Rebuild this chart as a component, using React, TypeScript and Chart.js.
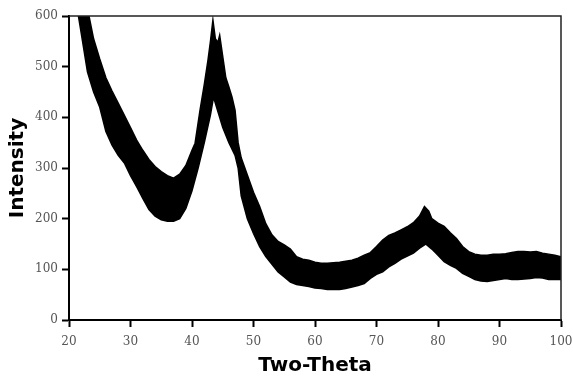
import React, { useEffect, useRef } from "react";
import { Chart, registerables } from "chart.js";

Chart.register(...registerables);

const upperTheta = [21, 22, 23, 24, 25, 26, 27, 28, 29, 30, 31, 32, 33, 34, 35, 36, 37, 38, 39, 40, 40.5, 41.3, 42, 42.6, 43, 43.4, 43.8, 44.2, 44.5, 45, 45.5, 46, 46.5, 47, 47.5, 48, 49, 50, 51, 52, 53, 54, 55, 56, 57, 58, 59, 60, 61, 62, 63, 64, 65, 66, 67, 68, 69, 70, 71, 72, 73, 74, 75, 76, 77, 77.8, 78.5, 79, 80, 81, 82, 83, 84, 85, 86, 87, 88, 89, 90, 91, 92, 93, 94, 95, 96, 97, 98, 99, 100];
const upperIntensity = [720, 660, 615, 555, 515, 478, 452, 428, 404, 380, 355, 335, 317, 303, 293, 285, 280, 288, 305, 335, 349, 414, 465, 513, 550, 592, 555, 548, 562, 520, 478, 460, 440, 414, 350, 320, 286, 252, 224, 190, 168, 155, 148, 140, 125, 120, 118, 114, 112, 112, 113, 114, 116, 118, 122, 128, 133, 145, 158, 167, 172, 178, 184, 192, 205, 224, 215, 200, 191, 185, 172, 161, 145, 135, 130, 128, 128, 130, 130, 131, 133, 135, 135, 134, 135, 132, 130, 128, 125];

const lowerTheta = [21, 22, 23, 24, 25, 26, 27, 28, 29, 30, 31, 32, 33, 34, 35, 36, 37, 38, 39, 40, 41, 42, 43, 43.5, 44, 45, 46, 47, 47.5, 48, 49, 50, 51, 52, 53, 54, 55, 56, 57, 58, 59, 60, 61, 62, 63, 64, 65, 66, 67, 68, 69, 70, 71, 72, 73, 74, 75, 76, 77, 78, 79, 80, 81, 82, 83, 84, 85, 86, 87, 88, 89, 90, 91, 92, 93, 94, 95, 96, 97, 98, 99, 100];
const lowerIntensity = [640, 565, 490, 450, 420, 372, 345, 325, 310, 285, 263, 240, 218, 205, 198, 195, 195, 200, 220, 255, 300, 350, 405, 440, 420, 380, 350, 325, 300, 245, 200, 171, 145, 125, 110, 95, 85, 75, 70, 68, 66, 63, 62, 60, 60, 60, 62, 65, 68, 72, 82, 90, 95, 105, 112, 120, 126, 132, 142, 150, 140, 128, 115, 108, 102, 92, 86, 80, 77, 76, 78, 80, 82, 80, 80, 81, 82, 84, 83, 80, 80, 80];

const xTickValues = [20, 30, 40, 50, 60, 70, 80, 90, 100];
const yTickValues = [0, 100, 200, 300, 400, 500, 600];

const framePlugin = {
  id: "frame",
  afterDatasetsDraw(chart: any) {
    const { ctx, chartArea } = chart;
    ctx.save();
    ctx.strokeStyle = "#222";
    ctx.lineWidth = 1.5;
    ctx.beginPath();
    ctx.moveTo(chartArea.left, chartArea.top);
    ctx.lineTo(chartArea.right, chartArea.top);
    ctx.lineTo(chartArea.right, chartArea.bottom);
    ctx.stroke();
    ctx.restore();
  },
};

export default function App() {
  const ref = useRef<HTMLCanvasElement | null>(null);
  useEffect(() => {
    if (!ref.current) return;
    const upper = upperTheta.map((x, i) => ({ x, y: upperIntensity[i] }));
    const lower = lowerTheta.map((x, i) => ({ x, y: lowerIntensity[i] }));
    const chart = new Chart(ref.current, {
      type: "line",
      data: {
        datasets: [
          {
            label: "upper",
            data: upper,
            borderColor: "#000",
            borderWidth: 1.5,
            pointRadius: 0,
            fill: false,
            tension: 0,
            clip: 0,
          } as any,
          {
            label: "lower",
            data: lower,
            borderColor: "#000",
            backgroundColor: "#000",
            borderWidth: 1.5,
            pointRadius: 0,
            fill: "-1",
            tension: 0,
            clip: 0,
          } as any,
        ],
      },
      options: {
        animation: false,
        responsive: false,
        maintainAspectRatio: false,
        layout: { padding: { left: 0, top: 16, right: 12, bottom: 0 } },
        plugins: { legend: { display: false }, tooltip: { enabled: false } },
        scales: {
          x: {
            type: "linear",
            min: 20,
            max: 100,
            afterFit(scale: any) {
              scale.height = 62;
              scale.paddingLeft = 0;
              scale.paddingRight = 0;
            },
            afterBuildTicks(scale: any) {
              scale.ticks = xTickValues.map((v) => ({ value: v }));
            },
            border: { display: true, color: "#000", width: 2 },
            grid: { display: true, drawOnChartArea: false, tickLength: 7, tickColor: "#000", tickWidth: 2 },
            ticks: { color: "#555", padding: 8, font: { family: "DejaVu Serif", size: 12 }, maxRotation: 0 },
            title: {
              display: true,
              text: "Two-Theta",
              color: "#000",
              font: { family: "DejaVu Sans", size: 20, weight: "bold" },
              padding: { top: 0, bottom: 4 },
            },
          },
          y: {
            type: "linear",
            min: 0,
            max: 600,
            afterFit(scale: any) {
              scale.width = 69;
              scale.paddingTop = 0;
              scale.paddingBottom = 0;
            },
            afterBuildTicks(scale: any) {
              scale.ticks = yTickValues.map((v) => ({ value: v }));
            },
            border: { display: true, color: "#000", width: 2 },
            grid: { display: true, drawOnChartArea: false, tickLength: 7, tickColor: "#000", tickWidth: 2 },
            ticks: { color: "#555", padding: 4, font: { family: "DejaVu Serif", size: 12 } },
            title: {
              display: true,
              text: "Intensity",
              color: "#000",
              font: { family: "DejaVu Sans", size: 20, weight: "bold" },
              padding: { top: 6, bottom: 0 },
            },
          },
        },
      },
      plugins: [framePlugin],
    });
    return () => chart.destroy();
  }, []);
  return (
    <div style={{ position: "fixed", left: 0, top: 0, width: 573, height: 382, background: "#fff" }}>
      <canvas ref={ref} width={573} height={382} style={{ width: 573, height: 382, display: "block" }} />
    </div>
  );
}
